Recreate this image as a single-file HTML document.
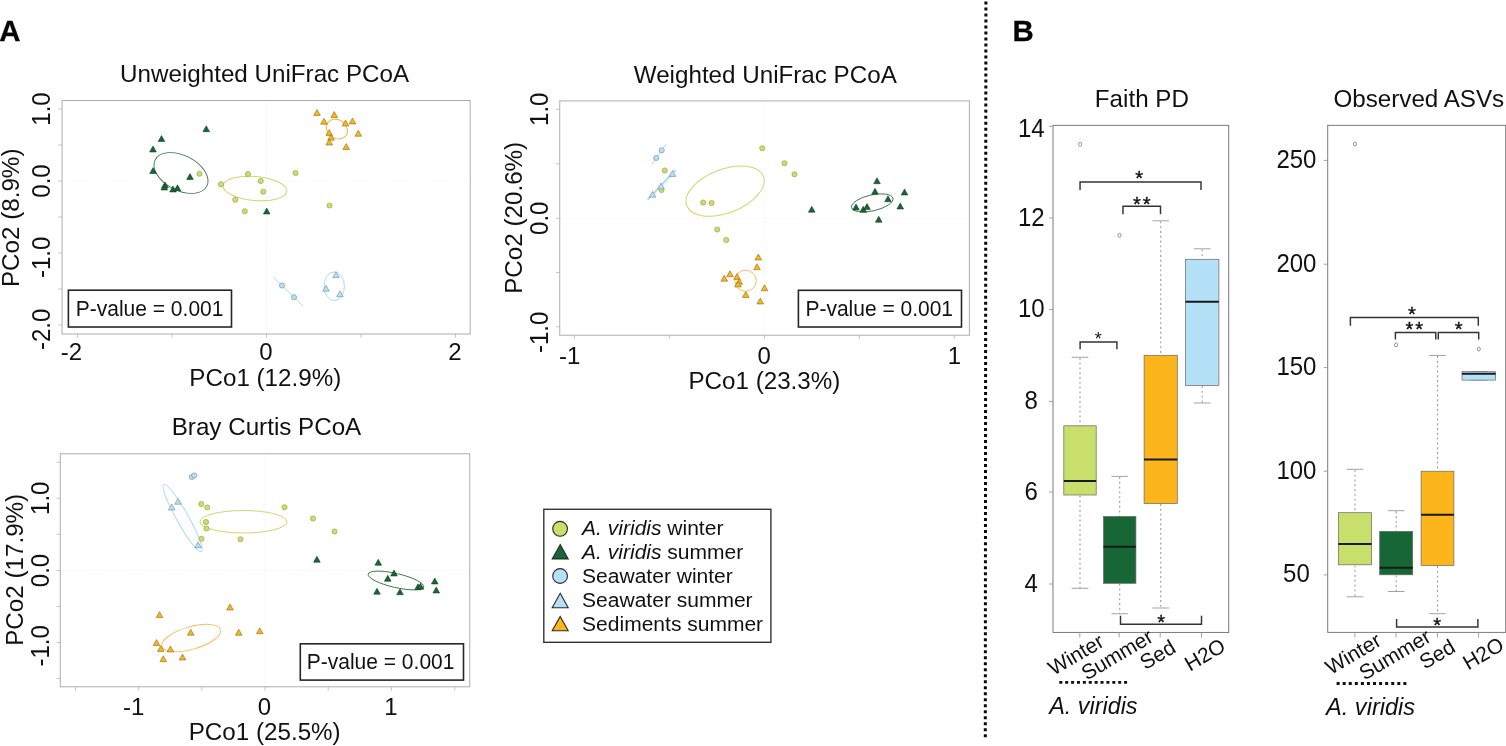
<!DOCTYPE html>
<html><head><meta charset="utf-8"><title>Figure</title>
<style>html,body{margin:0;padding:0;background:#fff}svg{display:block;font-family:"Liberation Sans", Arial, Helvetica, sans-serif}</style>
</head><body>
<svg width="1506" height="746" viewBox="0 0 1506 746">
<rect width="1506" height="746" fill="#fff"/>
<text x="-0.70" y="41.00" font-size="29.4" text-anchor="start" font-weight="bold" font-style="normal" fill="#050505" stroke="#050505" stroke-width="0.3">A</text>
<text x="1012.50" y="41.00" font-size="29.4" text-anchor="start" font-weight="bold" font-style="normal" fill="#050505" stroke="#050505" stroke-width="0.3">B</text>
<line x1="266.50" y1="100.50" x2="266.50" y2="334.00" stroke="#ececec" stroke-width="0.8" stroke-dasharray="1 1.5"/>
<line x1="62.05" y1="181.00" x2="470.20" y2="181.00" stroke="#ececec" stroke-width="0.8" stroke-dasharray="1 1.5"/>
<rect x="62.05" y="100.5" width="408.15" height="233.5" fill="none" stroke="#adadad" stroke-width="1"/>
<line x1="77.50" y1="334.00" x2="77.50" y2="337.80" stroke="#b8b8b8" stroke-width="0.8"/>
<line x1="172.00" y1="334.00" x2="172.00" y2="337.80" stroke="#b8b8b8" stroke-width="0.8"/>
<line x1="266.50" y1="334.00" x2="266.50" y2="337.80" stroke="#b8b8b8" stroke-width="0.8"/>
<line x1="361.00" y1="334.00" x2="361.00" y2="337.80" stroke="#b8b8b8" stroke-width="0.8"/>
<line x1="455.50" y1="334.00" x2="455.50" y2="337.80" stroke="#b8b8b8" stroke-width="0.8"/>
<line x1="58.25" y1="109.00" x2="62.05" y2="109.00" stroke="#b8b8b8" stroke-width="0.8"/>
<line x1="58.25" y1="145.00" x2="62.05" y2="145.00" stroke="#b8b8b8" stroke-width="0.8"/>
<line x1="58.25" y1="181.00" x2="62.05" y2="181.00" stroke="#b8b8b8" stroke-width="0.8"/>
<line x1="58.25" y1="217.00" x2="62.05" y2="217.00" stroke="#b8b8b8" stroke-width="0.8"/>
<line x1="58.25" y1="253.00" x2="62.05" y2="253.00" stroke="#b8b8b8" stroke-width="0.8"/>
<line x1="58.25" y1="289.00" x2="62.05" y2="289.00" stroke="#b8b8b8" stroke-width="0.8"/>
<line x1="58.25" y1="325.00" x2="62.05" y2="325.00" stroke="#b8b8b8" stroke-width="0.8"/>
<text x="264.60" y="82.30" font-size="24.2" text-anchor="middle" font-weight="normal" font-style="normal" fill="#111">Unweighted UniFrac PCoA</text>
<text x="265.30" y="386.30" font-size="24.2" text-anchor="middle" font-weight="normal" font-style="normal" fill="#111">PCo1 (12.9%)</text>
<text x="71.40" y="360.20" font-size="24" text-anchor="middle" font-weight="normal" font-style="normal" fill="#111">-2</text>
<text x="266.00" y="360.20" font-size="24" text-anchor="middle" font-weight="normal" font-style="normal" fill="#111">0</text>
<text x="455.00" y="360.20" font-size="24" text-anchor="middle" font-weight="normal" font-style="normal" fill="#111">2</text>
<text x="0" y="0" font-size="24" text-anchor="middle" font-weight="normal" font-style="normal" fill="#111" transform="translate(50.20 109.00) rotate(-90) scale(1 1.045)">1.0</text>
<text x="0" y="0" font-size="24" text-anchor="middle" font-weight="normal" font-style="normal" fill="#111" transform="translate(50.20 181.00) rotate(-90) scale(1 1.045)">0.0</text>
<text x="0" y="0" font-size="24" text-anchor="middle" font-weight="normal" font-style="normal" fill="#111" transform="translate(50.20 257.30) rotate(-90) scale(1 1.045)">-1.0</text>
<text x="0" y="0" font-size="24" text-anchor="middle" font-weight="normal" font-style="normal" fill="#111" transform="translate(50.20 329.30) rotate(-90) scale(1 1.045)">-2.0</text>
<text x="18.90" y="217.80" font-size="24.2" text-anchor="middle" font-weight="normal" font-style="normal" fill="#111" transform="rotate(-90 18.90 217.80)">PCo2 (8.9%)</text>
<ellipse cx="181.00" cy="173.00" rx="29" ry="17.5" transform="rotate(27 181.00 173.00)" fill="none" stroke="#3a754c" stroke-width="0.9"/>
<ellipse cx="255.00" cy="188.50" rx="32" ry="12" transform="rotate(5 255.00 188.50)" fill="none" stroke="#c5dc6e" stroke-width="1.0"/>
<ellipse cx="336.90" cy="129.10" rx="11.2" ry="9.2" transform="rotate(35 336.90 129.10)" fill="none" stroke="#fbbd62" stroke-width="1.2"/>
<ellipse cx="334.25" cy="286.30" rx="10.2" ry="14.3" transform="rotate(0 334.25 286.30)" fill="none" stroke="#a9dbf5" stroke-width="1.0"/>
<line x1="273.25" y1="277.00" x2="303.00" y2="306.25" stroke="#a9dbf5" stroke-width="1"/>
<path d="M206.25 125.80L209.55 131.70L202.95 131.70Z" fill="#176636" stroke="#14401f" stroke-width="0.6" stroke-linejoin="miter"/>
<path d="M161.50 135.55L164.80 141.45L158.20 141.45Z" fill="#176636" stroke="#14401f" stroke-width="0.6" stroke-linejoin="miter"/>
<path d="M153.00 146.05L156.30 151.95L149.70 151.95Z" fill="#176636" stroke="#14401f" stroke-width="0.6" stroke-linejoin="miter"/>
<path d="M153.00 167.65L156.30 173.55L149.70 173.55Z" fill="#176636" stroke="#14401f" stroke-width="0.6" stroke-linejoin="miter"/>
<path d="M190.00 173.55L193.30 179.45L186.70 179.45Z" fill="#176636" stroke="#14401f" stroke-width="0.6" stroke-linejoin="miter"/>
<path d="M165.00 182.05L168.30 187.95L161.70 187.95Z" fill="#176636" stroke="#14401f" stroke-width="0.6" stroke-linejoin="miter"/>
<path d="M164.25 184.05L167.55 189.95L160.95 189.95Z" fill="#176636" stroke="#14401f" stroke-width="0.6" stroke-linejoin="miter"/>
<path d="M173.00 186.05L176.30 191.95L169.70 191.95Z" fill="#176636" stroke="#14401f" stroke-width="0.6" stroke-linejoin="miter"/>
<path d="M177.50 184.80L180.80 190.70L174.20 190.70Z" fill="#176636" stroke="#14401f" stroke-width="0.6" stroke-linejoin="miter"/>
<path d="M266.75 208.05L270.05 213.95L263.45 213.95Z" fill="#176636" stroke="#14401f" stroke-width="0.6" stroke-linejoin="miter"/>
<circle cx="199.50" cy="173.75" r="2.6" fill="#c8df6b" stroke="#8c9c45" stroke-width="0.6"/>
<circle cx="248.00" cy="174.00" r="2.6" fill="#c8df6b" stroke="#8c9c45" stroke-width="0.6"/>
<circle cx="295.50" cy="173.00" r="2.6" fill="#c8df6b" stroke="#8c9c45" stroke-width="0.6"/>
<circle cx="260.75" cy="181.00" r="2.6" fill="#c8df6b" stroke="#8c9c45" stroke-width="0.6"/>
<circle cx="221.00" cy="184.25" r="2.6" fill="#c8df6b" stroke="#8c9c45" stroke-width="0.6"/>
<circle cx="263.25" cy="191.75" r="2.6" fill="#c8df6b" stroke="#8c9c45" stroke-width="0.6"/>
<circle cx="235.25" cy="199.75" r="2.6" fill="#c8df6b" stroke="#8c9c45" stroke-width="0.6"/>
<circle cx="244.75" cy="211.25" r="2.6" fill="#c8df6b" stroke="#8c9c45" stroke-width="0.6"/>
<circle cx="329.50" cy="205.50" r="2.6" fill="#c8df6b" stroke="#8c9c45" stroke-width="0.6"/>
<path d="M317.00 109.55L320.30 115.45L313.70 115.45Z" fill="#fcb51a" stroke="#8a6a1a" stroke-width="0.6" stroke-linejoin="miter"/>
<path d="M334.25 111.55L337.55 117.45L330.95 117.45Z" fill="#fcb51a" stroke="#8a6a1a" stroke-width="0.6" stroke-linejoin="miter"/>
<path d="M324.00 118.30L327.30 124.20L320.70 124.20Z" fill="#fcb51a" stroke="#8a6a1a" stroke-width="0.6" stroke-linejoin="miter"/>
<path d="M345.50 120.05L348.80 125.95L342.20 125.95Z" fill="#fcb51a" stroke="#8a6a1a" stroke-width="0.6" stroke-linejoin="miter"/>
<path d="M352.50 118.05L355.80 123.95L349.20 123.95Z" fill="#fcb51a" stroke="#8a6a1a" stroke-width="0.6" stroke-linejoin="miter"/>
<path d="M329.25 129.55L332.55 135.45L325.95 135.45Z" fill="#fcb51a" stroke="#8a6a1a" stroke-width="0.6" stroke-linejoin="miter"/>
<path d="M331.00 134.30L334.30 140.20L327.70 140.20Z" fill="#fcb51a" stroke="#8a6a1a" stroke-width="0.6" stroke-linejoin="miter"/>
<path d="M329.25 139.05L332.55 144.95L325.95 144.95Z" fill="#fcb51a" stroke="#8a6a1a" stroke-width="0.6" stroke-linejoin="miter"/>
<path d="M358.25 130.30L361.55 136.20L354.95 136.20Z" fill="#fcb51a" stroke="#8a6a1a" stroke-width="0.6" stroke-linejoin="miter"/>
<path d="M346.25 143.55L349.55 149.45L342.95 149.45Z" fill="#fcb51a" stroke="#8a6a1a" stroke-width="0.6" stroke-linejoin="miter"/>
<circle cx="282.00" cy="285.50" r="2.6" fill="#b5e1f8" stroke="#7a8790" stroke-width="0.6"/>
<circle cx="294.00" cy="297.25" r="2.6" fill="#b5e1f8" stroke="#7a8790" stroke-width="0.6"/>
<path d="M336.00 271.55L339.30 277.45L332.70 277.45Z" fill="#b5e1f8" stroke="#7a8790" stroke-width="0.6" stroke-linejoin="miter"/>
<path d="M326.00 285.30L329.30 291.20L322.70 291.20Z" fill="#b5e1f8" stroke="#7a8790" stroke-width="0.6" stroke-linejoin="miter"/>
<path d="M340.00 290.80L343.30 296.70L336.70 296.70Z" fill="#b5e1f8" stroke="#7a8790" stroke-width="0.6" stroke-linejoin="miter"/>
<rect x="68.4" y="290.2" width="163.1" height="36.80000000000001" fill="#fff" stroke="#262626" stroke-width="1.6"/>
<text x="0" y="0" font-size="21" text-anchor="start" font-weight="normal" font-style="normal" fill="#111" transform="translate(75.80 315.60) scale(1 1.06)">P-value = 0.001</text>
<line x1="764.90" y1="100.90" x2="764.90" y2="335.20" stroke="#ececec" stroke-width="0.8" stroke-dasharray="1 1.5"/>
<line x1="559.75" y1="218.25" x2="969.40" y2="218.25" stroke="#ececec" stroke-width="0.8" stroke-dasharray="1 1.5"/>
<rect x="559.75" y="100.9" width="409.65" height="234.29999999999998" fill="none" stroke="#adadad" stroke-width="1"/>
<line x1="574.40" y1="335.20" x2="574.40" y2="339.00" stroke="#b8b8b8" stroke-width="0.8"/>
<line x1="669.40" y1="335.20" x2="669.40" y2="339.00" stroke="#b8b8b8" stroke-width="0.8"/>
<line x1="764.50" y1="335.20" x2="764.50" y2="339.00" stroke="#b8b8b8" stroke-width="0.8"/>
<line x1="859.30" y1="335.20" x2="859.30" y2="339.00" stroke="#b8b8b8" stroke-width="0.8"/>
<line x1="954.40" y1="335.20" x2="954.40" y2="339.00" stroke="#b8b8b8" stroke-width="0.8"/>
<line x1="555.95" y1="109.25" x2="559.75" y2="109.25" stroke="#b8b8b8" stroke-width="0.8"/>
<line x1="555.95" y1="163.75" x2="559.75" y2="163.75" stroke="#b8b8b8" stroke-width="0.8"/>
<line x1="555.95" y1="218.25" x2="559.75" y2="218.25" stroke="#b8b8b8" stroke-width="0.8"/>
<line x1="555.95" y1="272.50" x2="559.75" y2="272.50" stroke="#b8b8b8" stroke-width="0.8"/>
<line x1="555.95" y1="326.75" x2="559.75" y2="326.75" stroke="#b8b8b8" stroke-width="0.8"/>
<text x="765.30" y="83.40" font-size="24.2" text-anchor="middle" font-weight="normal" font-style="normal" fill="#111">Weighted UniFrac PCoA</text>
<text x="764.40" y="389.00" font-size="24.2" text-anchor="middle" font-weight="normal" font-style="normal" fill="#111">PCo1 (23.3%)</text>
<text x="569.75" y="363.80" font-size="24" text-anchor="middle" font-weight="normal" font-style="normal" fill="#111">-1</text>
<text x="764.25" y="363.80" font-size="24" text-anchor="middle" font-weight="normal" font-style="normal" fill="#111">0</text>
<text x="954.50" y="363.80" font-size="24" text-anchor="middle" font-weight="normal" font-style="normal" fill="#111">1</text>
<text x="0" y="0" font-size="24" text-anchor="middle" font-weight="normal" font-style="normal" fill="#111" transform="translate(548.30 109.25) rotate(-90) scale(1 1.045)">1.0</text>
<text x="0" y="0" font-size="24" text-anchor="middle" font-weight="normal" font-style="normal" fill="#111" transform="translate(548.30 218.25) rotate(-90) scale(1 1.045)">0.0</text>
<text x="0" y="0" font-size="24" text-anchor="middle" font-weight="normal" font-style="normal" fill="#111" transform="translate(548.30 332.35) rotate(-90) scale(1 1.045)">-1.0</text>
<text x="522.00" y="217.80" font-size="24.2" text-anchor="middle" font-weight="normal" font-style="normal" fill="#111" transform="rotate(-90 522.00 217.80)">PCo2 (20.6%)</text>
<ellipse cx="725.10" cy="191.10" rx="41" ry="21.8" transform="rotate(-21 725.10 191.10)" fill="none" stroke="#c5dc6e" stroke-width="1.0"/>
<ellipse cx="872.25" cy="202.90" rx="21.2" ry="8" transform="rotate(-12.7 872.25 202.90)" fill="none" stroke="#3a754c" stroke-width="0.9"/>
<ellipse cx="745.50" cy="280.75" rx="10.75" ry="10.5" transform="rotate(0 745.50 280.75)" fill="none" stroke="#fbbd62" stroke-width="1.0"/>
<line x1="651.75" y1="164.25" x2="666.25" y2="143.75" stroke="#a9dbf5" stroke-width="1"/>
<line x1="647.50" y1="199.90" x2="675.40" y2="170.20" stroke="#a9dbf5" stroke-width="1.9"/>
<circle cx="664.75" cy="170.50" r="2.6" fill="#c8df6b" stroke="#8c9c45" stroke-width="0.6"/>
<circle cx="661.50" cy="190.00" r="2.6" fill="#c8df6b" stroke="#8c9c45" stroke-width="0.6"/>
<circle cx="762.25" cy="148.25" r="2.6" fill="#c8df6b" stroke="#8c9c45" stroke-width="0.6"/>
<circle cx="784.50" cy="163.25" r="2.6" fill="#c8df6b" stroke="#8c9c45" stroke-width="0.6"/>
<circle cx="794.50" cy="174.25" r="2.6" fill="#c8df6b" stroke="#8c9c45" stroke-width="0.6"/>
<circle cx="703.25" cy="202.50" r="2.6" fill="#c8df6b" stroke="#8c9c45" stroke-width="0.6"/>
<circle cx="711.50" cy="203.00" r="2.6" fill="#c8df6b" stroke="#8c9c45" stroke-width="0.6"/>
<circle cx="717.25" cy="229.50" r="2.6" fill="#c8df6b" stroke="#8c9c45" stroke-width="0.6"/>
<circle cx="726.25" cy="240.00" r="2.6" fill="#c8df6b" stroke="#8c9c45" stroke-width="0.6"/>
<circle cx="661.75" cy="150.25" r="2.6" fill="#b5e1f8" stroke="#7a8790" stroke-width="0.6"/>
<circle cx="656.25" cy="158.00" r="2.6" fill="#b5e1f8" stroke="#7a8790" stroke-width="0.6"/>
<path d="M672.50 170.55L675.80 176.45L669.20 176.45Z" fill="#b5e1f8" stroke="#7a8790" stroke-width="0.6" stroke-linejoin="miter"/>
<path d="M661.00 183.05L664.30 188.95L657.70 188.95Z" fill="#b5e1f8" stroke="#7a8790" stroke-width="0.6" stroke-linejoin="miter"/>
<path d="M652.50 191.30L655.80 197.20L649.20 197.20Z" fill="#b5e1f8" stroke="#7a8790" stroke-width="0.6" stroke-linejoin="miter"/>
<path d="M877.00 177.80L880.30 183.70L873.70 183.70Z" fill="#176636" stroke="#14401f" stroke-width="0.6" stroke-linejoin="miter"/>
<path d="M875.00 188.30L878.30 194.20L871.70 194.20Z" fill="#176636" stroke="#14401f" stroke-width="0.6" stroke-linejoin="miter"/>
<path d="M904.50 189.05L907.80 194.95L901.20 194.95Z" fill="#176636" stroke="#14401f" stroke-width="0.6" stroke-linejoin="miter"/>
<path d="M888.00 195.80L891.30 201.70L884.70 201.70Z" fill="#176636" stroke="#14401f" stroke-width="0.6" stroke-linejoin="miter"/>
<path d="M856.00 204.05L859.30 209.95L852.70 209.95Z" fill="#176636" stroke="#14401f" stroke-width="0.6" stroke-linejoin="miter"/>
<path d="M863.25 206.30L866.55 212.20L859.95 212.20Z" fill="#176636" stroke="#14401f" stroke-width="0.6" stroke-linejoin="miter"/>
<path d="M867.00 203.55L870.30 209.45L863.70 209.45Z" fill="#176636" stroke="#14401f" stroke-width="0.6" stroke-linejoin="miter"/>
<path d="M900.25 203.05L903.55 208.95L896.95 208.95Z" fill="#176636" stroke="#14401f" stroke-width="0.6" stroke-linejoin="miter"/>
<path d="M811.75 206.30L815.05 212.20L808.45 212.20Z" fill="#176636" stroke="#14401f" stroke-width="0.6" stroke-linejoin="miter"/>
<path d="M878.75 216.30L882.05 222.20L875.45 222.20Z" fill="#176636" stroke="#14401f" stroke-width="0.6" stroke-linejoin="miter"/>
<path d="M758.25 254.05L761.55 259.95L754.95 259.95Z" fill="#fcb51a" stroke="#8a6a1a" stroke-width="0.6" stroke-linejoin="miter"/>
<path d="M757.00 263.80L760.30 269.70L753.70 269.70Z" fill="#fcb51a" stroke="#8a6a1a" stroke-width="0.6" stroke-linejoin="miter"/>
<path d="M730.00 270.80L733.30 276.70L726.70 276.70Z" fill="#fcb51a" stroke="#8a6a1a" stroke-width="0.6" stroke-linejoin="miter"/>
<path d="M724.25 275.30L727.55 281.20L720.95 281.20Z" fill="#fcb51a" stroke="#8a6a1a" stroke-width="0.6" stroke-linejoin="miter"/>
<path d="M737.00 273.55L740.30 279.45L733.70 279.45Z" fill="#fcb51a" stroke="#8a6a1a" stroke-width="0.6" stroke-linejoin="miter"/>
<path d="M739.25 278.30L742.55 284.20L735.95 284.20Z" fill="#fcb51a" stroke="#8a6a1a" stroke-width="0.6" stroke-linejoin="miter"/>
<path d="M738.00 281.05L741.30 286.95L734.70 286.95Z" fill="#fcb51a" stroke="#8a6a1a" stroke-width="0.6" stroke-linejoin="miter"/>
<path d="M764.50 284.80L767.80 290.70L761.20 290.70Z" fill="#fcb51a" stroke="#8a6a1a" stroke-width="0.6" stroke-linejoin="miter"/>
<path d="M745.75 291.55L749.05 297.45L742.45 297.45Z" fill="#fcb51a" stroke="#8a6a1a" stroke-width="0.6" stroke-linejoin="miter"/>
<path d="M760.25 298.05L763.55 303.95L756.95 303.95Z" fill="#fcb51a" stroke="#8a6a1a" stroke-width="0.6" stroke-linejoin="miter"/>
<rect x="798.4" y="290.3" width="163.10000000000002" height="36.69999999999999" fill="#fff" stroke="#262626" stroke-width="1.6"/>
<text x="0" y="0" font-size="21" text-anchor="start" font-weight="normal" font-style="normal" fill="#111" transform="translate(805.40 315.80) scale(1 1.06)">P-value = 0.001</text>
<line x1="265.00" y1="453.75" x2="265.00" y2="686.80" stroke="#ececec" stroke-width="0.8" stroke-dasharray="1 1.5"/>
<line x1="60.30" y1="570.50" x2="469.75" y2="570.50" stroke="#ececec" stroke-width="0.8" stroke-dasharray="1 1.5"/>
<rect x="60.3" y="453.75" width="409.45" height="233.04999999999995" fill="none" stroke="#adadad" stroke-width="1"/>
<line x1="75.50" y1="686.80" x2="75.50" y2="690.60" stroke="#b8b8b8" stroke-width="0.8"/>
<line x1="138.75" y1="686.80" x2="138.75" y2="690.60" stroke="#b8b8b8" stroke-width="0.8"/>
<line x1="201.75" y1="686.80" x2="201.75" y2="690.60" stroke="#b8b8b8" stroke-width="0.8"/>
<line x1="265.00" y1="686.80" x2="265.00" y2="690.60" stroke="#b8b8b8" stroke-width="0.8"/>
<line x1="328.25" y1="686.80" x2="328.25" y2="690.60" stroke="#b8b8b8" stroke-width="0.8"/>
<line x1="391.50" y1="686.80" x2="391.50" y2="690.60" stroke="#b8b8b8" stroke-width="0.8"/>
<line x1="454.75" y1="686.80" x2="454.75" y2="690.60" stroke="#b8b8b8" stroke-width="0.8"/>
<line x1="56.50" y1="462.25" x2="60.30" y2="462.25" stroke="#b8b8b8" stroke-width="0.8"/>
<line x1="56.50" y1="498.25" x2="60.30" y2="498.25" stroke="#b8b8b8" stroke-width="0.8"/>
<line x1="56.50" y1="534.25" x2="60.30" y2="534.25" stroke="#b8b8b8" stroke-width="0.8"/>
<line x1="56.50" y1="570.50" x2="60.30" y2="570.50" stroke="#b8b8b8" stroke-width="0.8"/>
<line x1="56.50" y1="606.50" x2="60.30" y2="606.50" stroke="#b8b8b8" stroke-width="0.8"/>
<line x1="56.50" y1="642.50" x2="60.30" y2="642.50" stroke="#b8b8b8" stroke-width="0.8"/>
<line x1="56.50" y1="678.50" x2="60.30" y2="678.50" stroke="#b8b8b8" stroke-width="0.8"/>
<text x="266.50" y="434.50" font-size="24.2" text-anchor="middle" font-weight="normal" font-style="normal" fill="#111">Bray Curtis PCoA</text>
<text x="264.70" y="740.00" font-size="24.2" text-anchor="middle" font-weight="normal" font-style="normal" fill="#111">PCo1 (25.5%)</text>
<text x="133.75" y="715.00" font-size="24" text-anchor="middle" font-weight="normal" font-style="normal" fill="#111">-1</text>
<text x="264.50" y="715.00" font-size="24" text-anchor="middle" font-weight="normal" font-style="normal" fill="#111">0</text>
<text x="391.00" y="715.00" font-size="24" text-anchor="middle" font-weight="normal" font-style="normal" fill="#111">1</text>
<text x="0" y="0" font-size="24" text-anchor="middle" font-weight="normal" font-style="normal" fill="#111" transform="translate(48.60 498.25) rotate(-90) scale(1 1.045)">1.0</text>
<text x="0" y="0" font-size="24" text-anchor="middle" font-weight="normal" font-style="normal" fill="#111" transform="translate(48.60 570.50) rotate(-90) scale(1 1.045)">0.0</text>
<text x="0" y="0" font-size="24" text-anchor="middle" font-weight="normal" font-style="normal" fill="#111" transform="translate(48.60 645.80) rotate(-90) scale(1 1.045)">-1.0</text>
<text x="23.10" y="569.80" font-size="24.2" text-anchor="middle" font-weight="normal" font-style="normal" fill="#111" transform="rotate(-90 23.10 569.80)">PCo2 (17.9%)</text>
<ellipse cx="182.60" cy="518.10" rx="38.5" ry="6.0" transform="rotate(60.7 182.60 518.10)" fill="none" stroke="#a9dbf5" stroke-width="1.0"/>
<ellipse cx="243.50" cy="521.75" rx="43.5" ry="11.25" transform="rotate(0 243.50 521.75)" fill="none" stroke="#c5dc6e" stroke-width="1.0"/>
<ellipse cx="395.90" cy="580.50" rx="28.5" ry="7.0" transform="rotate(13 395.90 580.50)" fill="none" stroke="#3a754c" stroke-width="0.9"/>
<ellipse cx="191.25" cy="638.00" rx="30.5" ry="11.3" transform="rotate(-15.9 191.25 638.00)" fill="none" stroke="#fbbd62" stroke-width="1.0"/>
<circle cx="191.75" cy="477.00" r="2.6" fill="#b5e1f8" stroke="#7a8790" stroke-width="0.6"/>
<circle cx="194.25" cy="475.50" r="2.6" fill="#b5e1f8" stroke="#7a8790" stroke-width="0.6"/>
<path d="M178.00 498.30L181.30 504.20L174.70 504.20Z" fill="#b5e1f8" stroke="#7a8790" stroke-width="0.6" stroke-linejoin="miter"/>
<path d="M171.75 504.05L175.05 509.95L168.45 509.95Z" fill="#b5e1f8" stroke="#7a8790" stroke-width="0.6" stroke-linejoin="miter"/>
<path d="M198.00 541.80L201.30 547.70L194.70 547.70Z" fill="#b5e1f8" stroke="#7a8790" stroke-width="0.6" stroke-linejoin="miter"/>
<circle cx="201.25" cy="504.00" r="2.6" fill="#c8df6b" stroke="#8c9c45" stroke-width="0.6"/>
<circle cx="207.25" cy="507.50" r="2.6" fill="#c8df6b" stroke="#8c9c45" stroke-width="0.6"/>
<circle cx="284.50" cy="507.25" r="2.6" fill="#c8df6b" stroke="#8c9c45" stroke-width="0.6"/>
<circle cx="313.00" cy="518.50" r="2.6" fill="#c8df6b" stroke="#8c9c45" stroke-width="0.6"/>
<circle cx="334.50" cy="531.50" r="2.6" fill="#c8df6b" stroke="#8c9c45" stroke-width="0.6"/>
<circle cx="206.00" cy="522.00" r="2.6" fill="#c8df6b" stroke="#8c9c45" stroke-width="0.6"/>
<circle cx="206.50" cy="528.50" r="2.6" fill="#c8df6b" stroke="#8c9c45" stroke-width="0.6"/>
<circle cx="201.50" cy="538.75" r="2.6" fill="#c8df6b" stroke="#8c9c45" stroke-width="0.6"/>
<circle cx="240.50" cy="539.25" r="2.6" fill="#c8df6b" stroke="#8c9c45" stroke-width="0.6"/>
<path d="M316.90 556.30L320.20 562.20L313.60 562.20Z" fill="#176636" stroke="#14401f" stroke-width="0.6" stroke-linejoin="miter"/>
<path d="M378.25 559.30L381.55 565.20L374.95 565.20Z" fill="#176636" stroke="#14401f" stroke-width="0.6" stroke-linejoin="miter"/>
<path d="M394.00 570.05L397.30 575.95L390.70 575.95Z" fill="#176636" stroke="#14401f" stroke-width="0.6" stroke-linejoin="miter"/>
<path d="M387.75 575.30L391.05 581.20L384.45 581.20Z" fill="#176636" stroke="#14401f" stroke-width="0.6" stroke-linejoin="miter"/>
<path d="M434.75 578.05L438.05 583.95L431.45 583.95Z" fill="#176636" stroke="#14401f" stroke-width="0.6" stroke-linejoin="miter"/>
<path d="M436.25 587.05L439.55 592.95L432.95 592.95Z" fill="#176636" stroke="#14401f" stroke-width="0.6" stroke-linejoin="miter"/>
<path d="M377.00 588.30L380.30 594.20L373.70 594.20Z" fill="#176636" stroke="#14401f" stroke-width="0.6" stroke-linejoin="miter"/>
<path d="M400.00 588.80L403.30 594.70L396.70 594.70Z" fill="#176636" stroke="#14401f" stroke-width="0.6" stroke-linejoin="miter"/>
<path d="M418.00 583.80L421.30 589.70L414.70 589.70Z" fill="#176636" stroke="#14401f" stroke-width="0.6" stroke-linejoin="miter"/>
<path d="M420.50 583.30L423.80 589.20L417.20 589.20Z" fill="#176636" stroke="#14401f" stroke-width="0.6" stroke-linejoin="miter"/>
<path d="M230.00 604.05L233.30 609.95L226.70 609.95Z" fill="#fcb51a" stroke="#8a6a1a" stroke-width="0.6" stroke-linejoin="miter"/>
<path d="M159.50 611.65L162.80 617.55L156.20 617.55Z" fill="#fcb51a" stroke="#8a6a1a" stroke-width="0.6" stroke-linejoin="miter"/>
<path d="M190.75 629.30L194.05 635.20L187.45 635.20Z" fill="#fcb51a" stroke="#8a6a1a" stroke-width="0.6" stroke-linejoin="miter"/>
<path d="M238.75 629.30L242.05 635.20L235.45 635.20Z" fill="#fcb51a" stroke="#8a6a1a" stroke-width="0.6" stroke-linejoin="miter"/>
<path d="M259.75 627.80L263.05 633.70L256.45 633.70Z" fill="#fcb51a" stroke="#8a6a1a" stroke-width="0.6" stroke-linejoin="miter"/>
<path d="M156.50 639.55L159.80 645.45L153.20 645.45Z" fill="#fcb51a" stroke="#8a6a1a" stroke-width="0.6" stroke-linejoin="miter"/>
<path d="M160.75 645.55L164.05 651.45L157.45 651.45Z" fill="#fcb51a" stroke="#8a6a1a" stroke-width="0.6" stroke-linejoin="miter"/>
<path d="M170.50 646.05L173.80 651.95L167.20 651.95Z" fill="#fcb51a" stroke="#8a6a1a" stroke-width="0.6" stroke-linejoin="miter"/>
<path d="M163.25 655.80L166.55 661.70L159.95 661.70Z" fill="#fcb51a" stroke="#8a6a1a" stroke-width="0.6" stroke-linejoin="miter"/>
<path d="M182.50 654.05L185.80 659.95L179.20 659.95Z" fill="#fcb51a" stroke="#8a6a1a" stroke-width="0.6" stroke-linejoin="miter"/>
<rect x="300.3" y="643.8" width="163.2" height="36.30000000000007" fill="#fff" stroke="#262626" stroke-width="1.6"/>
<text x="0" y="0" font-size="21" text-anchor="start" font-weight="normal" font-style="normal" fill="#111" transform="translate(306.80 669.00) scale(1 1.06)">P-value = 0.001</text>
<rect x="543.8" y="509.3" width="227.1" height="133" fill="#fff" stroke="#333" stroke-width="1.4"/>
<circle cx="560.1" cy="528.8" r="7.4" fill="#c8df6b" stroke="#2a2a2a" stroke-width="1.1"/>
<path d="M560.2 544.6L568.2 558.9L552.2 558.9Z" fill="#176636" stroke="#2a2a2a" stroke-width="1.1" stroke-linejoin="miter"/>
<circle cx="560.1" cy="576" r="7.4" fill="#b5e1f8" stroke="#2a2a2a" stroke-width="1.1"/>
<path d="M560.2 593.3L568.2 607.8L552.2 607.8Z" fill="#b5e1f8" stroke="#2a2a2a" stroke-width="1.1" stroke-linejoin="miter"/>
<path d="M560.2 616.4L568.2 630.7L552.2 630.7Z" fill="#fcb51a" stroke="#2a2a2a" stroke-width="1.1" stroke-linejoin="miter"/>
<text x="582.1" y="535.0" font-size="21.03" fill="#111"><tspan font-style="italic">A. viridis</tspan> winter</text>
<text x="582.1" y="558.8" font-size="21.03" fill="#111"><tspan font-style="italic">A. viridis</tspan> summer</text>
<text x="582.10" y="582.80" font-size="21.03" text-anchor="start" font-weight="normal" font-style="normal" fill="#111">Seawater winter</text>
<text x="582.10" y="606.70" font-size="21.03" text-anchor="start" font-weight="normal" font-style="normal" fill="#111">Seawater summer</text>
<text x="582.10" y="630.60" font-size="21.03" text-anchor="start" font-weight="normal" font-style="normal" fill="#111">Sediments summer</text>
<line x1="985.9" y1="1.5" x2="985.3" y2="737.5" stroke="#0a0a0a" stroke-width="3" stroke-dasharray="3 3.007"/>
<rect x="1053.0" y="125.35" width="175.70000000000005" height="507.1" fill="none" stroke="#7a7a7a" stroke-width="1"/>
<text x="1141.90" y="106.60" font-size="24.2" text-anchor="middle" font-weight="normal" font-style="normal" fill="#111">Faith PD</text>
<line x1="1049.00" y1="126.30" x2="1053.00" y2="126.30" stroke="#999" stroke-width="0.9"/>
<text x="0" y="0" font-size="24" text-anchor="middle" font-weight="normal" font-style="normal" fill="#111" transform="translate(1031.30 136.80) scale(1 1.045)">14</text>
<line x1="1049.00" y1="218.00" x2="1053.00" y2="218.00" stroke="#999" stroke-width="0.9"/>
<text x="0" y="0" font-size="24" text-anchor="middle" font-weight="normal" font-style="normal" fill="#111" transform="translate(1031.30 225.50) scale(1 1.045)">12</text>
<line x1="1049.00" y1="309.60" x2="1053.00" y2="309.60" stroke="#999" stroke-width="0.9"/>
<text x="0" y="0" font-size="24" text-anchor="middle" font-weight="normal" font-style="normal" fill="#111" transform="translate(1031.30 317.10) scale(1 1.045)">10</text>
<line x1="1049.00" y1="401.40" x2="1053.00" y2="401.40" stroke="#999" stroke-width="0.9"/>
<text x="0" y="0" font-size="24" text-anchor="middle" font-weight="normal" font-style="normal" fill="#111" transform="translate(1031.30 408.90) scale(1 1.045)">8</text>
<line x1="1049.00" y1="492.00" x2="1053.00" y2="492.00" stroke="#999" stroke-width="0.9"/>
<text x="0" y="0" font-size="24" text-anchor="middle" font-weight="normal" font-style="normal" fill="#111" transform="translate(1031.30 499.50) scale(1 1.045)">6</text>
<line x1="1049.00" y1="584.00" x2="1053.00" y2="584.00" stroke="#999" stroke-width="0.9"/>
<text x="0" y="0" font-size="24" text-anchor="middle" font-weight="normal" font-style="normal" fill="#111" transform="translate(1031.30 591.50) scale(1 1.045)">4</text>
<line x1="1079.80" y1="632.45" x2="1079.80" y2="637.45" stroke="#999" stroke-width="0.9"/>
<line x1="1119.10" y1="632.45" x2="1119.10" y2="637.45" stroke="#999" stroke-width="0.9"/>
<line x1="1160.20" y1="632.45" x2="1160.20" y2="637.45" stroke="#999" stroke-width="0.9"/>
<line x1="1201.50" y1="632.45" x2="1201.50" y2="637.45" stroke="#999" stroke-width="0.9"/>
<line x1="1080.00" y1="357.90" x2="1080.00" y2="425.80" stroke="#999" stroke-width="1.1" stroke-dasharray="1.9 2.9"/>
<line x1="1080.00" y1="495.60" x2="1080.00" y2="588.30" stroke="#999" stroke-width="1.1" stroke-dasharray="1.9 2.9"/>
<line x1="1071.70" y1="357.30" x2="1088.30" y2="357.30" stroke="#999" stroke-width="0.9"/>
<line x1="1071.70" y1="588.30" x2="1088.30" y2="588.30" stroke="#999" stroke-width="0.9"/>
<rect x="1063.80" y="425.80" width="32.40" height="69.20" fill="#c8df6b" stroke="#666" stroke-width="0.7"/>
<line x1="1063.80" y1="481.00" x2="1096.20" y2="481.00" stroke="#1a1a1a" stroke-width="2.0"/>
<line x1="1119.70" y1="477.00" x2="1119.70" y2="516.50" stroke="#999" stroke-width="1.1" stroke-dasharray="1.9 2.9"/>
<line x1="1119.70" y1="583.90" x2="1119.70" y2="613.80" stroke="#999" stroke-width="1.1" stroke-dasharray="1.9 2.9"/>
<line x1="1111.40" y1="476.40" x2="1128.00" y2="476.40" stroke="#999" stroke-width="0.9"/>
<line x1="1111.40" y1="613.80" x2="1128.00" y2="613.80" stroke="#999" stroke-width="0.9"/>
<rect x="1103.50" y="516.50" width="32.40" height="66.80" fill="#176636" stroke="#666" stroke-width="0.7"/>
<line x1="1103.50" y1="546.80" x2="1135.90" y2="546.80" stroke="#1a1a1a" stroke-width="2.0"/>
<line x1="1160.70" y1="221.40" x2="1160.70" y2="355.30" stroke="#999" stroke-width="1.1" stroke-dasharray="1.9 2.9"/>
<line x1="1160.70" y1="504.10" x2="1160.70" y2="608.00" stroke="#999" stroke-width="1.1" stroke-dasharray="1.9 2.9"/>
<line x1="1152.40" y1="220.80" x2="1169.00" y2="220.80" stroke="#999" stroke-width="0.9"/>
<line x1="1152.40" y1="608.00" x2="1169.00" y2="608.00" stroke="#999" stroke-width="0.9"/>
<rect x="1144.10" y="355.30" width="33.20" height="148.20" fill="#fcb51a" stroke="#666" stroke-width="0.7"/>
<line x1="1144.10" y1="459.50" x2="1177.30" y2="459.50" stroke="#1a1a1a" stroke-width="2.0"/>
<line x1="1202.20" y1="249.40" x2="1202.20" y2="259.30" stroke="#999" stroke-width="1.1" stroke-dasharray="1.9 2.9"/>
<line x1="1202.20" y1="386.10" x2="1202.20" y2="403.00" stroke="#999" stroke-width="1.1" stroke-dasharray="1.9 2.9"/>
<line x1="1193.90" y1="248.80" x2="1210.50" y2="248.80" stroke="#999" stroke-width="0.9"/>
<line x1="1193.90" y1="403.00" x2="1210.50" y2="403.00" stroke="#999" stroke-width="0.9"/>
<rect x="1185.50" y="259.30" width="33.40" height="126.20" fill="#b5e1f8" stroke="#666" stroke-width="0.7"/>
<line x1="1185.50" y1="301.80" x2="1218.90" y2="301.80" stroke="#1a1a1a" stroke-width="2.0"/>
<ellipse cx="1080.1" cy="144.3" rx="1.55" ry="1.95" fill="none" stroke="#6a6a6a" stroke-width="0.7"/>
<ellipse cx="1119.5" cy="235.3" rx="1.55" ry="1.95" fill="none" stroke="#6a6a6a" stroke-width="0.7"/>
<path d="M1080.05 189.9V181.9H1201V189.9" fill="none" stroke="#333" stroke-width="1.45"/>
<text x="1139.20" y="185.25" font-size="20.2" text-anchor="middle" font-weight="normal" font-style="normal" fill="#111" stroke="#111" stroke-width="0.35">*</text>
<path d="M1123 214.29999999999998V206.2H1160.5V214.29999999999998" fill="none" stroke="#333" stroke-width="1.45"/>
<text x="1142.75" y="210.95" font-size="20.2" text-anchor="middle" font-weight="normal" font-style="normal" fill="#111" letter-spacing="1.9" stroke="#111" stroke-width="0.35">**</text>
<path d="M1080.1 349.2V342H1116.9V349.2" fill="none" stroke="#333" stroke-width="1.45"/>
<text x="1097.50" y="344.50" font-size="18" text-anchor="middle" font-weight="normal" font-style="italic" fill="#111">*</text>
<path d="M1120.5 615.8V624.3H1201.5V615.8" fill="none" stroke="#333" stroke-width="1.45"/>
<text x="1161.30" y="628.90" font-size="20.2" text-anchor="middle" font-weight="normal" font-style="normal" fill="#111" stroke="#111" stroke-width="0.35">*</text>
<text x="1079.60" y="660.80" font-size="20.9" text-anchor="middle" font-weight="normal" font-style="normal" fill="#111" transform="rotate(-30.5 1079.60 660.80)">Winter</text>
<text x="1120.70" y="660.80" font-size="20.9" text-anchor="middle" font-weight="normal" font-style="normal" fill="#111" transform="rotate(-30.5 1120.70 660.80)">Summer</text>
<text x="1161.30" y="660.80" font-size="20.9" text-anchor="middle" font-weight="normal" font-style="normal" fill="#111" transform="rotate(-30.5 1161.30 660.80)">Sed</text>
<text x="1208.40" y="660.80" font-size="20.9" text-anchor="middle" font-weight="normal" font-style="normal" fill="#111" transform="rotate(-30.5 1208.40 660.80)">H2O</text>
<line x1="1059.3" y1="682.4" x2="1127.5" y2="682.4" stroke="#111" stroke-width="2.8" stroke-dasharray="3 2.89"/>
<text x="1049.20" y="714.20" font-size="23.4" text-anchor="start" font-weight="normal" font-style="italic" fill="#111">A. viridis</text>
<rect x="1327.7" y="125.35" width="178.0" height="507.04999999999995" fill="none" stroke="#7a7a7a" stroke-width="1"/>
<text x="1418.80" y="106.80" font-size="24.2" text-anchor="middle" font-weight="normal" font-style="normal" fill="#111">Observed ASVs</text>
<line x1="1323.70" y1="160.40" x2="1327.70" y2="160.40" stroke="#999" stroke-width="0.9"/>
<text x="0" y="0" font-size="24" text-anchor="middle" font-weight="normal" font-style="normal" fill="#111" transform="translate(1296.40 167.90) scale(1 1.045)">250</text>
<line x1="1323.70" y1="264.20" x2="1327.70" y2="264.20" stroke="#999" stroke-width="0.9"/>
<text x="0" y="0" font-size="24" text-anchor="middle" font-weight="normal" font-style="normal" fill="#111" transform="translate(1296.40 271.70) scale(1 1.045)">200</text>
<line x1="1323.70" y1="367.60" x2="1327.70" y2="367.60" stroke="#999" stroke-width="0.9"/>
<text x="0" y="0" font-size="24" text-anchor="middle" font-weight="normal" font-style="normal" fill="#111" transform="translate(1296.40 375.10) scale(1 1.045)">150</text>
<line x1="1323.70" y1="471.20" x2="1327.70" y2="471.20" stroke="#999" stroke-width="0.9"/>
<text x="0" y="0" font-size="24" text-anchor="middle" font-weight="normal" font-style="normal" fill="#111" transform="translate(1296.40 478.70) scale(1 1.045)">100</text>
<line x1="1323.70" y1="574.90" x2="1327.70" y2="574.90" stroke="#999" stroke-width="0.9"/>
<text x="0" y="0" font-size="24" text-anchor="middle" font-weight="normal" font-style="normal" fill="#111" transform="translate(1296.40 582.40) scale(1 1.045)">50</text>
<line x1="1354.90" y1="632.40" x2="1354.90" y2="637.40" stroke="#999" stroke-width="0.9"/>
<line x1="1396.00" y1="632.40" x2="1396.00" y2="637.40" stroke="#999" stroke-width="0.9"/>
<line x1="1437.50" y1="632.40" x2="1437.50" y2="637.40" stroke="#999" stroke-width="0.9"/>
<line x1="1478.60" y1="632.40" x2="1478.60" y2="637.40" stroke="#999" stroke-width="0.9"/>
<line x1="1355.00" y1="469.90" x2="1355.00" y2="512.70" stroke="#999" stroke-width="1.1" stroke-dasharray="1.9 2.9"/>
<line x1="1355.00" y1="565.40" x2="1355.00" y2="596.80" stroke="#999" stroke-width="1.1" stroke-dasharray="1.9 2.9"/>
<line x1="1346.70" y1="469.30" x2="1363.30" y2="469.30" stroke="#999" stroke-width="0.9"/>
<line x1="1346.70" y1="596.80" x2="1363.30" y2="596.80" stroke="#999" stroke-width="0.9"/>
<rect x="1338.40" y="512.70" width="33.20" height="52.10" fill="#c8df6b" stroke="#666" stroke-width="0.7"/>
<line x1="1338.40" y1="544.10" x2="1371.60" y2="544.10" stroke="#1a1a1a" stroke-width="2.0"/>
<line x1="1396.20" y1="511.30" x2="1396.20" y2="531.40" stroke="#999" stroke-width="1.1" stroke-dasharray="1.9 2.9"/>
<line x1="1396.20" y1="575.40" x2="1396.20" y2="591.50" stroke="#999" stroke-width="1.1" stroke-dasharray="1.9 2.9"/>
<line x1="1387.90" y1="510.70" x2="1404.50" y2="510.70" stroke="#999" stroke-width="0.9"/>
<line x1="1387.90" y1="591.50" x2="1404.50" y2="591.50" stroke="#999" stroke-width="0.9"/>
<rect x="1379.70" y="531.40" width="33.00" height="43.40" fill="#176636" stroke="#666" stroke-width="0.7"/>
<line x1="1379.70" y1="567.80" x2="1412.70" y2="567.80" stroke="#1a1a1a" stroke-width="2.0"/>
<line x1="1437.50" y1="356.10" x2="1437.50" y2="471.20" stroke="#999" stroke-width="1.1" stroke-dasharray="1.9 2.9"/>
<line x1="1437.50" y1="566.10" x2="1437.50" y2="613.70" stroke="#999" stroke-width="1.1" stroke-dasharray="1.9 2.9"/>
<line x1="1429.20" y1="355.50" x2="1445.80" y2="355.50" stroke="#999" stroke-width="0.9"/>
<line x1="1429.20" y1="613.70" x2="1445.80" y2="613.70" stroke="#999" stroke-width="0.9"/>
<rect x="1421.10" y="471.20" width="32.80" height="94.30" fill="#fcb51a" stroke="#666" stroke-width="0.7"/>
<line x1="1421.10" y1="514.70" x2="1453.90" y2="514.70" stroke="#1a1a1a" stroke-width="2.0"/>
<line x1="1478.80" y1="372.30" x2="1478.80" y2="371.70" stroke="#999" stroke-width="1.1" stroke-dasharray="1.9 2.9"/>
<line x1="1478.80" y1="380.70" x2="1478.80" y2="380.10" stroke="#999" stroke-width="1.1" stroke-dasharray="1.9 2.9"/>
<line x1="1470.50" y1="371.70" x2="1487.10" y2="371.70" stroke="#999" stroke-width="0.9"/>
<line x1="1470.50" y1="380.10" x2="1487.10" y2="380.10" stroke="#999" stroke-width="0.9"/>
<rect x="1462.00" y="371.70" width="33.60" height="8.40" fill="#b5e1f8" stroke="#666" stroke-width="0.7"/>
<line x1="1462.00" y1="373.70" x2="1495.60" y2="373.70" stroke="#1a1a1a" stroke-width="2.0"/>
<ellipse cx="1355" cy="144" rx="1.55" ry="1.95" fill="none" stroke="#6a6a6a" stroke-width="0.7"/>
<ellipse cx="1396" cy="344.9" rx="1.55" ry="1.95" fill="none" stroke="#6a6a6a" stroke-width="0.7"/>
<ellipse cx="1478.8" cy="349.1" rx="1.55" ry="1.95" fill="none" stroke="#6a6a6a" stroke-width="0.7"/>
<path d="M1350.4 325.8V317.5H1478.3V325.8" fill="none" stroke="#333" stroke-width="1.45"/>
<text x="1411.85" y="320.80" font-size="20.2" text-anchor="middle" font-weight="normal" font-style="normal" fill="#111" stroke="#111" stroke-width="0.35">*</text>
<path d="M1395.4 339.5V332.5H1435.8V339.5" fill="none" stroke="#333" stroke-width="1.45"/>
<text x="1415.15" y="336.25" font-size="20.2" text-anchor="middle" font-weight="normal" font-style="normal" fill="#111" letter-spacing="1.9" stroke="#111" stroke-width="0.35">**</text>
<path d="M1438.3 339.5V332.5H1478.7V339.5" fill="none" stroke="#333" stroke-width="1.45"/>
<text x="1458.60" y="336.25" font-size="20.2" text-anchor="middle" font-weight="normal" font-style="normal" fill="#111" stroke="#111" stroke-width="0.35">*</text>
<path d="M1396.6 618.9V626.9H1477.9V618.9" fill="none" stroke="#333" stroke-width="1.45"/>
<text x="1437.20" y="631.75" font-size="20.2" text-anchor="middle" font-weight="normal" font-style="normal" fill="#111" stroke="#111" stroke-width="0.35">*</text>
<text x="1356.70" y="659.90" font-size="20.9" text-anchor="middle" font-weight="normal" font-style="normal" fill="#111" transform="rotate(-30.5 1356.70 659.90)">Winter</text>
<text x="1398.60" y="660.70" font-size="20.9" text-anchor="middle" font-weight="normal" font-style="normal" fill="#111" transform="rotate(-30.5 1398.60 660.70)">Summer</text>
<text x="1440.80" y="660.30" font-size="20.9" text-anchor="middle" font-weight="normal" font-style="normal" fill="#111" transform="rotate(-30.5 1440.80 660.30)">Sed</text>
<text x="1486.90" y="659.70" font-size="20.9" text-anchor="middle" font-weight="normal" font-style="normal" fill="#111" transform="rotate(-30.5 1486.90 659.70)">H2O</text>
<line x1="1336.6" y1="683.5" x2="1406.9" y2="683.5" stroke="#111" stroke-width="2.8" stroke-dasharray="3 3.07"/>
<text x="1326.00" y="714.60" font-size="23.6" text-anchor="start" font-weight="normal" font-style="italic" fill="#111">A. viridis</text>
</svg>
</body></html>
